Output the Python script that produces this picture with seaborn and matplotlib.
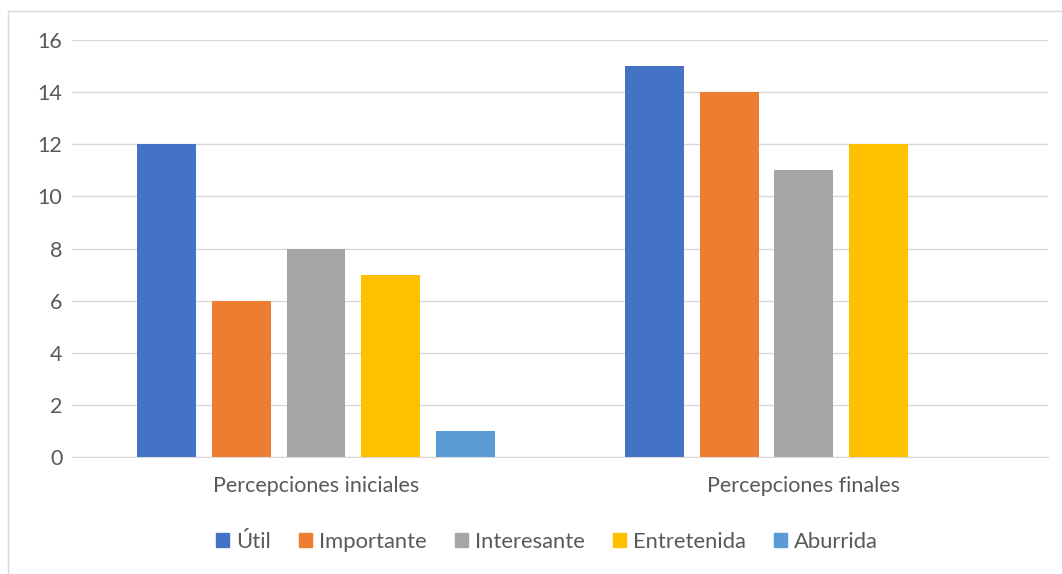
import numpy as np
import pandas as pd
import matplotlib
matplotlib.use("Agg")
import matplotlib.pyplot as plt
import seaborn as sns
from matplotlib.patches import Rectangle

# data
grupos = ["Percepciones iniciales", "Percepciones finales"]
series = ["Útil", "Importante", "Interesante", "Entretenida", "Aburrida"]
iniciales = [12, 6, 8, 7, 1]
finales = [15, 14, 11, 12, 0]
colores = ["#4472C4", "#ED7D31", "#A5A5A5", "#FFC000", "#5B9BD5"]
yticks = [0, 2, 4, 6, 8, 10, 12, 14, 16]

df = pd.DataFrame({
    "grupo": [grupos[0]] * len(series) + [grupos[1]] * len(series),
    "serie": series * 2,
    "valor": iniciales + finales,
})

sns.set_style("white")
plt.rcParams["font.family"] = ["Lato", "DejaVu Sans"]
texto = "#595959"

fig = plt.figure(figsize=(10.62, 5.74), dpi=100)
ax = fig.add_axes([0.0678, 0.2038, 0.9190, 0.7265])

sns.barplot(data=df, x="grupo", y="valor", hue="serie", order=grupos,
            hue_order=series, palette=colores, width=0.768, gap=0.213,
            linewidth=0, saturation=1, ax=ax, legend=True)

ax.set_ylim(0, 16)
ax.set_yticks(yticks)
ax.set_xlim(-0.5, 1.5)
ax.yaxis.grid(True, color="#d9d9d9", linewidth=1)
ax.set_axisbelow(True)
for s in ["top", "right", "left"]:
    ax.spines[s].set_visible(False)
ax.spines["bottom"].set_color("#d9d9d9")
ax.tick_params(axis="both", length=0, labelsize=15.5, labelcolor=texto)
ax.tick_params(axis="y", pad=7)
ax.tick_params(axis="x", pad=14)
ax.set_xlabel("")
ax.set_ylabel("")

ax.legend_.remove()
handles = [Rectangle((0, 0), 1, 1, color=c) for c in colores]
fig.legend(handles, series, loc="center", bbox_to_anchor=(0.515, 0.056),
           ncol=5, frameon=False, fontsize=15.8, labelcolor=texto,
           handlelength=0.6, handleheight=0.6, handletextpad=0.3,
           columnspacing=1.3)

# light chart border
fig.patches.append(Rectangle((8 / 1062, -0.05), 1.1, 1 - 11 / 574 + 0.05,
                             transform=fig.transFigure, fill=False,
                             edgecolor="#d9d9d9", linewidth=1))

fig.savefig("out.png", dpi=100)
